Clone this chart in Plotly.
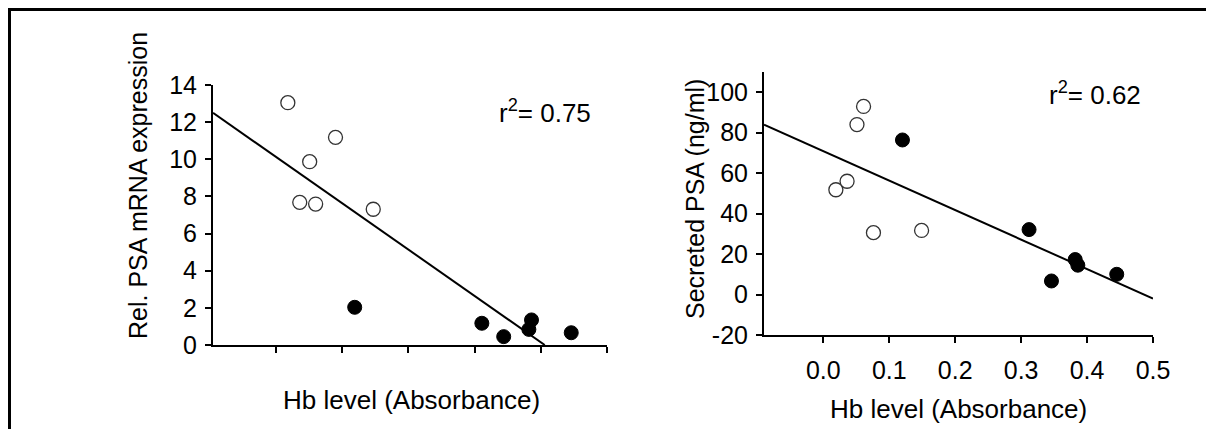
import plotly.graph_objects as go

# ---------------- data ----------------
# Left panel: Rel. PSA mRNA expression vs Hb level
left_open_x = [0.018, 0.036, 0.051, 0.060, 0.090, 0.147]
left_open_y = [13.05, 7.68, 9.87, 7.59, 11.18, 7.31]
left_fill_x = [0.119, 0.311, 0.344, 0.382, 0.386, 0.446]
left_fill_y = [2.03, 1.17, 0.45, 0.84, 1.35, 0.66]
left_fit_x = [-0.095, 0.406]
left_fit_y = [12.5, 0.0]
left_r2 = "0.75"

# Right panel: Secreted PSA vs Hb level
right_open_x = [0.019, 0.036, 0.051, 0.061, 0.076, 0.149]
right_open_y = [51.8, 56.0, 84.0, 93.0, 30.6, 31.7]
right_fill_x = [0.120, 0.312, 0.346, 0.382, 0.386, 0.445]
right_fill_y = [76.4, 32.1, 6.7, 17.3, 14.5, 10.0]
right_fit_x = [-0.09, 0.5]
right_fit_y = [84.0, -2.0]
right_r2 = "0.62"

x_ticks = [0.0, 0.1, 0.2, 0.3, 0.4, 0.5]
x_tick_text = ["0.0", "0.1", "0.2", "0.3", "0.4", "0.5"]
left_y_ticks = [0, 2, 4, 6, 8, 10, 12, 14]
right_y_ticks = [-20, 0, 20, 40, 60, 80, 100]
right_y_tick_text = ["-20", "0", "20", "40", "60", "80", "100"]

x_title = "Hb level (Absorbance)"
left_y_title = "Rel. PSA mRNA expression"
right_y_title = "Secreted PSA (ng/ml)"

# ---------------- figure ----------------
# the page body has an 8px default margin: size the figure to fit the window
OFF = 8
W, H = 1214 - OFF, 437 - 2 * OFF
FONT = "Liberation Sans, Arial, sans-serif"
FS_TICK = 25
FS_TXT = 26
FS_VTXT = 25

fig = go.Figure()

open_marker = dict(symbol="circle", size=14, color="white",
                   line=dict(color="#333333", width=1.3))
fill_marker = dict(symbol="circle", size=14, color="black",
                   line=dict(color="black", width=1))

def add_panel(ox, oy, fx, fy, lx, ly, xa, ya):
    fig.add_trace(go.Scatter(x=lx, y=ly, mode="lines",
                             line=dict(color="black", width=2),
                             xaxis=xa, yaxis=ya, showlegend=False,
                             hoverinfo="skip"))
    fig.add_trace(go.Scatter(x=ox, y=oy, mode="markers", marker=open_marker,
                             xaxis=xa, yaxis=ya, showlegend=False))
    fig.add_trace(go.Scatter(x=fx, y=fy, mode="markers", marker=fill_marker,
                             xaxis=xa, yaxis=ya, showlegend=False))

add_panel(left_open_x, left_open_y, left_fill_x, left_fill_y,
          left_fit_x, left_fit_y, "x", "y")
add_panel(right_open_x, right_open_y, right_fill_x, right_fill_y,
          right_fit_x, right_fit_y, "x2", "y2")

def px(v):
    return (v - OFF) / W

def py(v):
    return 1 - (v - OFF) / H

axis_common = dict(showline=True, linecolor="black", linewidth=2,
                   ticks="outside", ticklen=6, tickwidth=1.5, tickcolor="black",
                   showgrid=False, zeroline=False, fixedrange=True,
                   automargin=False,
                   tickfont=dict(family=FONT, size=FS_TICK, color="black"))

fig.update_layout(
    width=W, height=H,
    autosize=False,
    margin=dict(l=0, r=0, t=0, b=0, pad=0),
    paper_bgcolor="white", plot_bgcolor="white",
    font=dict(family=FONT, size=FS_TXT, color="black"),
    xaxis=dict(domain=[px(213), px(607)], range=[-0.095, 0.5],
               tickvals=x_ticks, showticklabels=False, anchor="y",
               **axis_common),
    yaxis=dict(domain=[py(345), py(85)], range=[0, 14],
               tickvals=left_y_ticks, anchor="x", ticklabelstandoff=3,
               **axis_common),
    xaxis2=dict(domain=[px(764), px(1153)], range=[-0.09, 0.5],
                tickvals=x_ticks, ticktext=x_tick_text, anchor="y2",
                ticklabelstandoff=6, **axis_common),
    yaxis2=dict(domain=[py(335), py(72)], range=[-20, 110],
                tickvals=right_y_ticks, ticktext=right_y_tick_text,
                anchor="x2", ticklabelstandoff=3,
                **axis_common),
)

def ann(text, x, y, size, angle=0):
    fig.add_annotation(text=text, textangle=angle, x=px(x), y=py(y),
                       xref="paper", yref="paper", xanchor="center",
                       yanchor="middle", showarrow=False,
                       font=dict(family=FONT, size=size, color="black"))

ann(left_y_title, 138, 186, FS_VTXT, -90)
ann(right_y_title, 695, 199, FS_VTXT, -90)
ann(x_title, 411, 400, FS_TXT)
ann(x_title, 958, 409, FS_TXT)
ann("r<sup>2</sup>= " + left_r2, 545, 112, FS_TXT)
ann("r<sup>2</sup>= " + right_r2, 1095, 93, FS_TXT)

# frame lines (left and top borders, faint right edge)
fig.add_shape(type="line", xref="paper", yref="paper",
              x0=px(9), x1=px(9), y0=py(7), y1=py(437),
              line=dict(color="black", width=4))
fig.add_shape(type="line", xref="paper", yref="paper",
              x0=px(7), x1=px(1214), y0=py(9), y1=py(9),
              line=dict(color="black", width=4))
fig.add_shape(type="line", xref="paper", yref="paper",
              x0=px(1213), x1=px(1213), y0=py(25), y1=py(437),
              line=dict(color="#c8c8c8", width=1))

fig.write_html("out.html", config={"displayModeBar": False})
